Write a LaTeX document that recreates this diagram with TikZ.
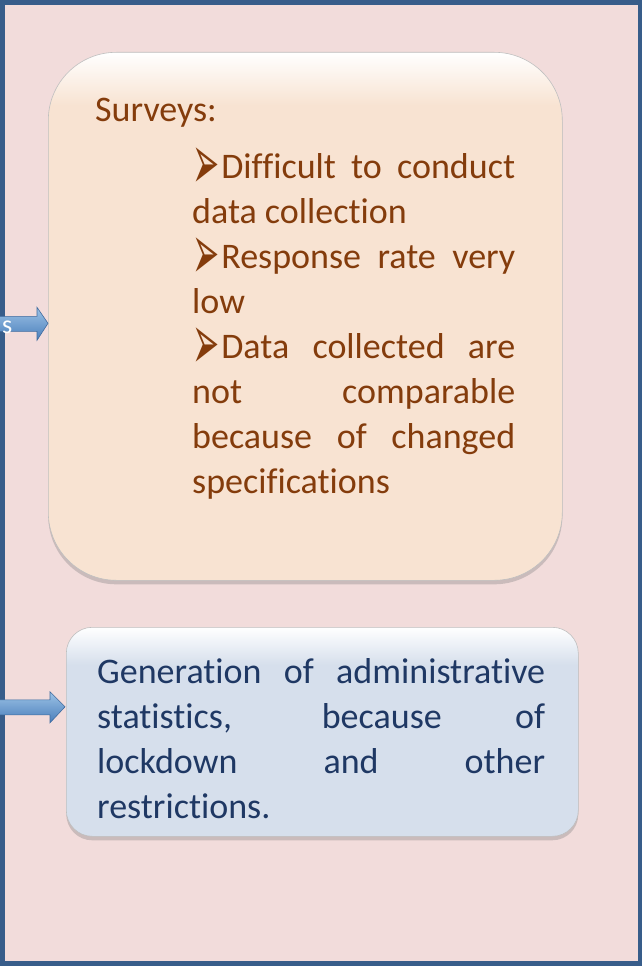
\documentclass[tikz,border=0pt]{standalone}
\usepackage{fontspec}
\setmainfont[Ligatures={NoCommon,NoRare,NoContextual}]{Carlito}
\newfontfamily\dejavu{DejaVu Sans}
\usetikzlibrary{shadows,calc}
\definecolor{bgpink}{HTML}{F2DCDB}
\definecolor{frameblue}{HTML}{385D8A}
\definecolor{peach}{HTML}{F8E3D2}
\definecolor{bluegrey}{HTML}{D6DFEC}
\definecolor{browntext}{HTML}{843C0C}
\definecolor{navytext}{HTML}{1F3864}
\definecolor{arrowtop}{HTML}{9DC3E6}
\definecolor{arrowbot}{HTML}{4A7EBB}
\pgfdeclareverticalshading{peachshade}{100bp}{color(0bp)=(peach); color(70bp)=(peach); color(75bp)=(white); color(100bp)=(white)}
\pgfdeclareverticalshading{blueshade}{100bp}{color(0bp)=(bluegrey); color(66bp)=(bluegrey); color(75bp)=(white); color(100bp)=(white)}
\newcommand{\bulmark}{\raisebox{-11.5pt}[26pt][0pt]{\scalebox{1.2}[2.9]{\dejavu\fontsize{27}{45}\selectfont ➢}}\hspace{2pt}}
\tikzset{
  peachbox/.style={shading=peachshade, draw=black!25, line width=0.6pt, rounded corners=68pt,
    drop shadow={opacity=0.35, shadow xshift=0pt, shadow yshift=-4pt}, inner sep=0pt},
  bluebox/.style={shading=blueshade, draw=black!25, line width=0.6pt, rounded corners=26pt,
    drop shadow={opacity=0.35, shadow xshift=0pt, shadow yshift=-4pt}, inner sep=0pt},
  blockarrow/.style={top color=arrowtop, bottom color=arrowbot, draw=arrowbot!85!black, line width=0.6pt, line join=miter},
  bigtext/.style={inner sep=0pt, font=\fontsize{36}{45}\selectfont},
}
\begin{document}
\begin{tikzpicture}[x=1pt,y=-1pt]
\useasboundingbox (0,0) rectangle (642,966);
\fill[bgpink] (0,0) rectangle (642,966);
\draw[frameblue, line width=5pt] (2.5,2.5) rectangle (640,963.5);
% boxes
\node[peachbox, minimum width=514pt, minimum height=528pt, anchor=north west] (box1) at (48,52) {};
\node[bluebox, minimum width=512pt, minimum height=209pt, anchor=north west] (box2) at (66,627) {};
% texts
\node[bigtext, text=browntext, anchor=base west] (t1title) at (95,121) {Surveys:};
\node[bigtext, text=browntext, anchor=base west] (t1list) at (192,178) {\parbox[t]{323pt}{\fontsize{36}{45}\selectfont
\bulmark Difficult to conduct\linebreak data collection\par
\bulmark Response rate very\linebreak low\par
\bulmark Data collected are\linebreak not comparable\linebreak because of changed\linebreak specifications}};
\node[bigtext, text=navytext, anchor=base west] (t2) at (97,683) {\parbox[t]{448pt}{\fontsize{36}{45}\selectfont
Generation of administrative\linebreak statistics, because of\linebreak lockdown and other\linebreak restrictions.}};
% arrows
\path (box1.west) ++(0,7) coordinate (tip1);
\path (box2.west) ++(-1,-25) coordinate (tip2);
\draw[blockarrow] (tip1) -- ++(-11,-16) -- ++(0,9) -- ++(-45,0) -- ++(0,15) -- ++(45,0) -- ++(0,9) -- cycle;
\draw[blockarrow] (tip2) -- ++(-15,-15) -- ++(0,8) -- ++(-58,0) -- ++(0,15) -- ++(58,0) -- ++(0,8) -- cycle;
\node[text=white, inner sep=0pt, font=\fontsize{26}{30}\selectfont, anchor=base east] (slabel) at (12.5,333) {s};
\end{tikzpicture}
\end{document}
